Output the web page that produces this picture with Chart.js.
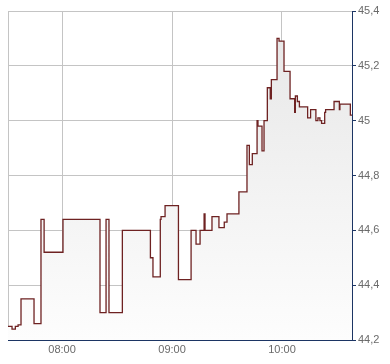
<!DOCTYPE html>
<html>
<head>
<meta charset="utf-8">
<script src="https://cdn.jsdelivr.net/npm/chart.js@4/dist/chart.umd.min.js"></script>
<style>
html,body{margin:0;padding:0;background:#fff;}
#wrap{width:390px;height:364px;position:relative;}
</style>
</head>
<body>
<div id="wrap"><canvas id="c"></canvas></div>
<script>
// time in minutes since midnight
const times = [450.5, 452.7, 454.5, 456, 457.6, 464.7, 468.5, 470.2, 480.5, 500.7, 504.0, 505.6, 512.9, 528.2, 529.6, 533.6, 534.0, 536.2, 543.5, 550.4, 553.1, 555.3, 557.5, 558.0, 561.8, 565.6, 568.5, 570.0, 576.5, 580.9, 582.2, 583.8, 586.4, 586.9, 589.1, 590.2, 592.0, 593.6, 594.2, 597.3, 598.4, 601.1, 604.4, 606.9, 607.3, 608.4, 609.5, 614.0, 615.6, 618.5, 619.6, 620.7, 621.6, 623.3, 623.8, 628.4, 631.3, 631.6, 637.3, 638.2];
const prices = [44.25, 44.24, 44.25, 44.255, 44.35, 44.26, 44.64, 44.52, 44.64, 44.30, 44.64, 44.30, 44.60, 44.50, 44.43, 44.64, 44.65, 44.69, 44.42, 44.60, 44.55, 44.60, 44.66, 44.60, 44.65, 44.61, 44.63, 44.66, 44.74, 44.91, 44.84, 44.88, 45.00, 44.98, 44.89, 45.00, 45.12, 45.08, 45.15, 45.30, 45.29, 45.18, 45.08, 45.03, 45.09, 45.07, 45.05, 45.01, 45.04, 45.00, 45.01, 45.00, 44.99, 45.03, 45.04, 45.07, 45.04, 45.06, 45.02, 45.02];
const xTicks = [480, 540, 600];
const xTickLabels = ['08:00', '09:00', '10:00'];
const xMin = 450.5, xMax = 638.2;
const yMin = 44.2, yMax = 45.4, yStep = 0.2;

const navy = '#1c3564';
const grid = '#c4c4c4';
const txt = '#6a6a6a';

const points = times.map((t, i) => ({x: t, y: prices[i]}));

new Chart(document.getElementById('c'), {
  type: 'line',
  data: {
    datasets: [{
      data: points,
      stepped: 'before',
      borderColor: '#6e2222',
      borderWidth: 1.3,
      pointRadius: 0,
      fill: 'start',
      backgroundColor: (ctx) => {
        const ca = ctx.chart.chartArea;
        if (!ca) return '#f2f2f2';
        const g = ctx.chart.ctx.createLinearGradient(0, ca.top, 0, ca.bottom);
        g.addColorStop(0, '#e6e6e6');
        g.addColorStop(1, '#fdfdfd');
        return g;
      }
    }]
  },
  options: {
    responsive: true,
    maintainAspectRatio: false,
    animation: false,
    layout: {padding: {left: 8, top: 11, right: 0, bottom: 0}},
    plugins: {legend: {display: false}, tooltip: {enabled: false}},
    scales: {
      x: {
        type: 'linear',
        min: xMin, max: xMax,
        afterBuildTicks: (s) => { s.ticks = [xMin].concat(xTicks).map(v => ({value: v})); },
        afterFit: (s) => { s.height = 24; },
        ticks: {
          autoSkip: false,
          maxRotation: 0,
          color: txt,
          font: {family: 'Liberation Sans, Arial, sans-serif', size: 11},
          padding: 3,
          callback: (v) => { const i = xTicks.indexOf(v); return i >= 0 ? xTickLabels[i] : ''; }
        },
        grid: {color: grid, lineWidth: 1, drawTicks: false},
        border: {color: navy, width: 1}
      },
      y: {
        position: 'right',
        min: yMin, max: yMax,
        afterBuildTicks: (s) => {
          const arr = [];
          for (let v = yMin; v <= yMax + 1e-9; v += yStep) arr.push({value: Math.round(v * 10) / 10});
          s.ticks = arr;
        },
        afterFit: (s) => { s.width = 38; },
        ticks: {
          color: txt,
          font: {family: 'Liberation Sans, Arial, sans-serif', size: 11},
          padding: 2,
          callback: (v) => String(Number(v.toFixed(1))).replace('.', ',')
        },
        grid: {color: grid, lineWidth: 1, drawTicks: true, tickLength: 4, tickColor: navy},
        border: {color: navy, width: 1}
      }
    }
  }
});
</script>
</body>
</html>
